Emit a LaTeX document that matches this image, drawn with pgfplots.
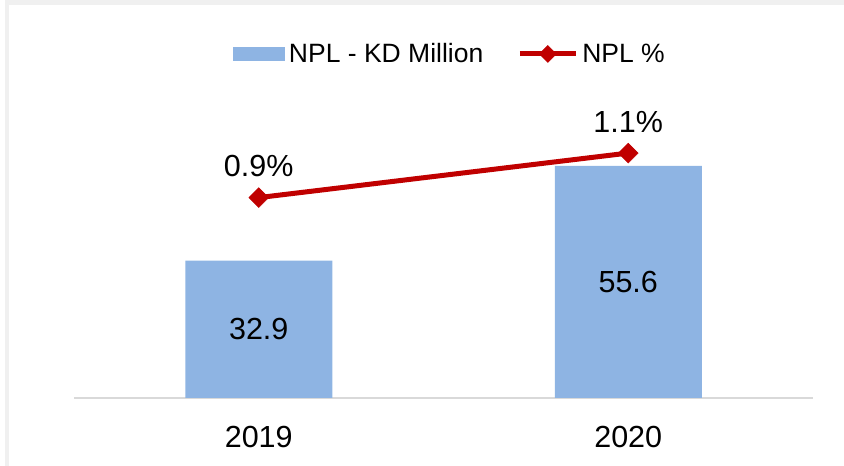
\documentclass[border=0pt]{standalone}
\usepackage{pgfplots}
\pgfplotsset{compat=1.18}
\usepackage{fontspec}
\setmainfont{Liberation Sans}
\definecolor{barblue}{HTML}{8EB4E3}
\definecolor{linered}{HTML}{C00000}
\definecolor{axisgray}{HTML}{D9D9D9}
\definecolor{framegray}{HTML}{F0F0F0}
\pgfplotsset{
  barlegend/.style={legend image code/.code={\fill[##1] (0pt,-7pt) rectangle (52pt,7pt);}},
  linelegend/.style={legend image code/.code={\draw[##1] (0pt,0pt) -- (56pt,0pt);
     \draw[##1, mark size=6pt] plot coordinates {(28pt,0pt)};}},
}
\begin{document}
\begin{tikzpicture}[x=1pt,y=1pt]
\path[use as bounding box] (0,0) rectangle (844,466);
\fill[framegray] (5,461) rectangle (844,466);
\fill[framegray] (5,0) rectangle (9,466);
\begin{axis}[
  at={(74pt,68pt)}, anchor=south west,
  scale only axis, width=739pt, height=334pt,
  xmin=-0.5, xmax=1.5, ymin=0, ymax=80,
  xtick={0,1}, xticklabels={2019,2020},
  axis x line*=bottom, axis y line=none,
  x axis line style={axisgray, line width=2pt, -},
  major tick length=0pt,
  xticklabel style={font=\fontsize{30.5}{36}\selectfont, anchor=base, yshift=-49pt},
  ytick=\empty,
  clip=false,
]
\addplot[ybar, bar width=147pt, fill=barblue, draw=none,
  point meta=explicit symbolic, nodes near coords,
  visualization depends on=y \as \rawy,
  every node near coord/.append style={font=\fontsize{30.5}{36}\selectfont, anchor=center, yshift=0pt,
     shift={(axis direction cs:0,-\rawy/2)}}]
 coordinates {(0,32.9) [32.9] (1,55.6) [55.6]};
\end{axis}
\begin{axis}[
  at={(74pt,68pt)}, anchor=south west,
  scale only axis, width=739pt, height=334pt,
  xmin=-0.5, xmax=1.5, ymin=0, ymax=1.5,
  hide axis, clip=false,
  legend style={at={(0.51,1.03)}, anchor=center, draw=none, fill=none,
    legend columns=2, font=\fontsize{26.5}{32}\selectfont,
    nodes={inner ysep=2pt, inner xsep=4pt},
    /tikz/every even column/.append style={column sep=30pt}},
]
\addlegendimage{fill=barblue, draw=none, barlegend}
\addlegendentry{NPL - KD Million}
\addplot[linered, line width=5pt, mark=square*,
  mark options={solid, line width=0.5pt, rotate=45, fill=linered},
  mark size=7pt,
  point meta=explicit symbolic, nodes near coords,
  every node near coord/.append style={font=\fontsize{30.5}{36}\selectfont, text=black, anchor=base, yshift=21pt},
  linelegend]
 coordinates {(0,0.9) [0.9\%] (1,1.1) [1.1\%]};
\addlegendentry{NPL \%}
\end{axis}
\end{tikzpicture}
\end{document}
